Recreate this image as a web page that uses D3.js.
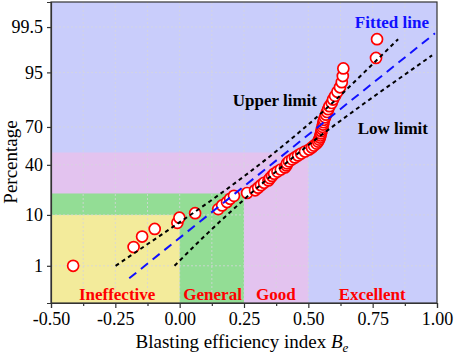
<!DOCTYPE html>
<html>
<head>
<meta charset="utf-8">
<script src="https://cdn.jsdelivr.net/npm/d3@7"></script>
<style>
  body { margin: 0; background: #fff; }
  svg { display: block; }
</style>
</head>
<body>
<script>
// blasting efficiency index of each blast, sorted
const beValues = [-0.414, -0.179, -0.146, -0.097, -0.009, -0.001, 0.060, 0.150, 0.165, 0.184, 0.196, 0.211,
  0.262, 0.293, 0.305, 0.316, 0.328, 0.345, 0.351, 0.359, 0.367, 0.380, 0.393,
  0.409, 0.415, 0.417, 0.425, 0.437, 0.448, 0.460, 0.472, 0.487, 0.503,
  0.514, 0.522, 0.532, 0.538, 0.542, 0.545, 0.547, 0.549, 0.551, 0.553,
  0.555, 0.557, 0.559, 0.561, 0.565, 0.569, 0.573, 0.577, 0.582, 0.591,
  0.596, 0.604, 0.613, 0.623, 0.630, 0.634, 0.636, 0.763, 0.767]
// cumulative percentage of each point
const cumPercent = [1.00, 2.61, 4.22, 5.82, 7.43, 9.04, 10.64, 12.25, 13.86, 15.46, 17.07, 18.67,
  20.28, 21.89, 23.49, 25.10, 26.71, 28.31, 29.92, 31.53, 33.13, 34.74, 36.35,
  37.95, 39.56, 41.16, 42.77, 44.38, 45.98, 47.59, 49.20, 50.80, 52.41,
  54.02, 55.62, 57.23, 58.84, 60.44, 62.05, 63.65, 65.26, 66.87, 68.47,
  70.08, 71.69, 73.29, 74.90, 76.51, 78.11, 79.72, 81.33, 82.93, 84.54,
  86.14, 87.75, 89.36, 90.96, 92.57, 94.18, 95.78, 97.39, 99.00]

const fitX = [-0.196, 0.992]
const fitPercent = [0.49, 99.28]
const upperX = [-0.249, -0.059, 0.118, 0.369, 0.590, 0.717, 0.849]
const upperPercent = [1, 5, 15.87, 50, 84.13, 95, 99]
const lowerX = [-0.020, 0.111, 0.243, 0.464, 0.715, 0.887, 0.981]
const lowerPercent = [1, 5, 15.87, 50, 84.13, 95, 97.7]

// grade zones
const zoneNames = ["Ineffective", "General", "Good", "Excellent"]
const zoneXEnd = [0, 0.25, 0.5, 1.0]
const zonePercentTop = [10, 20, 50, 99.9]
const zoneColors = ["#f3eb9b", "#93dd95", "#e3c3ef", "#c9cdfb"]
const zoneLabelX = [-0.243, 0.128, 0.374, 0.748]

const xTicks = [-0.5, -0.25, 0, 0.25, 0.5, 0.75, 1.0]
const xTickLabels = ["-0.50", "-0.25", "0.00", "0.25", "0.50", "0.75", "1.00"]
const xMinorTicks = [-0.375, -0.125, 0.125, 0.375, 0.625, 0.875]
const yTicks = [1, 10, 40, 70, 95, 99.5]
const yTickLabels = ["1", "10", "40", "70", "95", "99.5"]

// inverse normal cdf (Acklam)
function probit(p) {
  const a = [-3.969683028665376e+01, 2.209460984245205e+02, -2.759285104469687e+02, 1.383577518672690e+02, -3.066479806614716e+01, 2.506628277459239e+00]
  const b = [-5.447609879822406e+01, 1.615858368580409e+02, -1.556989798598866e+02, 6.680131188771972e+01, -1.328068155288572e+01]
  const c = [-7.784894002430293e-03, -3.223964580411365e-01, -2.400758277161838e+00, -2.549732539343734e+00, 4.374664141464968e+00, 2.938163982698783e+00]
  const d = [7.784695709041462e-03, 3.224671290700398e-01, 2.445134137142996e+00, 3.754408661907416e+00]
  const pl = 0.02425
  let q, r
  if (p < pl) {
    q = Math.sqrt(-2 * Math.log(p))
    return (((((c[0]*q+c[1])*q+c[2])*q+c[3])*q+c[4])*q+c[5]) / ((((d[0]*q+d[1])*q+d[2])*q+d[3])*q+1)
  }
  if (p > 1 - pl) {
    q = Math.sqrt(-2 * Math.log(1 - p))
    return -(((((c[0]*q+c[1])*q+c[2])*q+c[3])*q+c[4])*q+c[5]) / ((((d[0]*q+d[1])*q+d[2])*q+d[3])*q+1)
  }
  q = p - 0.5
  r = q * q
  return (((((a[0]*r+a[1])*r+a[2])*r+a[3])*r+a[4])*r+a[5])*q / (((((b[0]*r+b[1])*r+b[2])*r+b[3])*r+b[4])*r+1)
}

const width = 457
const height = 359
const margin = {top: 2, right: 20, bottom: 56, left: 51}
const font = "'Liberation Serif', 'Times New Roman', serif"

const x = d3.scaleLinear()
  .domain([-0.5, 1.0])
  .range([margin.left, width - margin.right])

const z = d3.scaleLinear()
  .domain([probit(0.001), probit(0.999)])
  .range([height - margin.bottom, margin.top])
const y = pct => z(probit(pct / 100))

const svg = d3.select("body").append("svg")
  .attr("width", width)
  .attr("height", height)
  .attr("font-family", font)

// background zones, widest first
for (let i = zoneNames.length - 1; i >= 0; i--) {
  svg.append("rect")
    .attr("x", x(-0.5))
    .attr("y", y(zonePercentTop[i]))
    .attr("width", x(zoneXEnd[i]) - x(-0.5))
    .attr("height", y(0.1) - y(zonePercentTop[i]))
    .attr("fill", zoneColors[i])
}

// grid
const grid = svg.append("g")
  .attr("stroke", "#d6d6dc")
  .attr("stroke-width", 0.8)
  .attr("stroke-dasharray", "2,2")
grid.selectAll(".gx")
  .data(xTicks.concat(xMinorTicks).filter(d => d > -0.5 && d < 1))
  .join("line")
  .attr("x1", d => x(d)).attr("x2", d => x(d))
  .attr("y1", margin.top).attr("y2", height - margin.bottom)
grid.selectAll(".gy")
  .data(yTicks)
  .join("line")
  .attr("y1", d => y(d)).attr("y2", d => y(d))
  .attr("x1", margin.left).attr("x2", width - margin.right)

svg.append("clipPath").attr("id", "plot")
  .append("rect")
  .attr("x", margin.left).attr("y", margin.top)
  .attr("width", width - margin.left - margin.right)
  .attr("height", height - margin.top - margin.bottom)

// points
svg.append("g")
  .selectAll("circle")
  .data(beValues)
  .join("circle")
  .attr("cx", d => x(d))
  .attr("cy", (d, i) => y(cumPercent[i]))
  .attr("r", 5.5)
  .attr("fill", "white")
  .attr("stroke", "#ff0000")
  .attr("stroke-width", 1.7)

const line = d3.line().curve(d3.curveMonotoneX)
const lines = svg.append("g").attr("clip-path", "url(#plot)").attr("fill", "none")
lines.append("path")
  .attr("d", line(fitX.map((d, i) => [x(d), y(fitPercent[i])])))
  .attr("stroke", "#1010ff")
  .attr("stroke-width", 2)
  .attr("stroke-dasharray", "9,6")
lines.append("path")
  .attr("d", line(upperX.map((d, i) => [x(d), y(upperPercent[i])])))
  .attr("stroke", "black")
  .attr("stroke-width", 2)
  .attr("stroke-dasharray", "4,3.5")
lines.append("path")
  .attr("d", line(lowerX.map((d, i) => [x(d), y(lowerPercent[i])])))
  .attr("stroke", "black")
  .attr("stroke-width", 2)
  .attr("stroke-dasharray", "4,3.5")

// annotations
svg.append("text")
  .attr("x", 429).attr("y", 28)
  .attr("text-anchor", "end")
  .attr("font-weight", "bold").attr("font-size", 17)
  .attr("fill", "#1010ff")
  .text("Fitted line")
svg.append("text")
  .attr("x", 317).attr("y", 106)
  .attr("text-anchor", "end")
  .attr("font-weight", "bold").attr("font-size", 17)
  .text("Upper limit")
svg.append("text")
  .attr("x", 428).attr("y", 134)
  .attr("text-anchor", "end")
  .attr("font-weight", "bold").attr("font-size", 17)
  .text("Low limit")

svg.append("g")
  .selectAll("text")
  .data(zoneNames)
  .join("text")
  .attr("x", (d, i) => x(zoneLabelX[i]))
  .attr("y", 300)
  .attr("text-anchor", "middle")
  .attr("font-weight", "bold").attr("font-size", 17)
  .attr("fill", "#ff0000")
  .text(d => d)

// axes
svg.append("g")
  .attr("transform", `translate(0,${height - margin.bottom})`)
  .call(d3.axisBottom(x).tickValues(xTicks).tickFormat((d, i) => xTickLabels[i]).tickSizeOuter(0).tickSize(5).tickPadding(4))
svg.append("g")
  .attr("transform", `translate(0,${height - margin.bottom})`)
  .call(d3.axisBottom(x).tickValues(xMinorTicks).tickFormat("").tickSizeOuter(0).tickSize(3))
  .call(g => g.select(".domain").remove())

svg.append("g")
  .attr("transform", `translate(${margin.left},0)`)
  .call(d3.axisLeft(z).tickValues(yTicks.map(p => probit(p / 100))).tickFormat((d, i) => yTickLabels[i]).tickSizeOuter(0).tickSize(4).tickPadding(4))

svg.selectAll(".tick text").attr("font-size", 18).attr("font-family", font).attr("fill", "black")
svg.selectAll(".domain, .tick line").attr("stroke", "#333").attr("stroke-width", 1.2)

// frame
svg.append("rect")
  .attr("x", margin.left).attr("y", margin.top)
  .attr("width", width - margin.left - margin.right)
  .attr("height", height - margin.top - margin.bottom)
  .attr("fill", "none")
  .attr("stroke", "#333")
  .attr("stroke-width", 1.2)

// axis titles
const xt = svg.append("text")
  .attr("x", 242)
  .attr("y", 348)
  .attr("text-anchor", "middle")
  .attr("font-size", 19)
xt.append("tspan").text("Blasting efficiency index ")
xt.append("tspan").attr("font-style", "italic").text("B")
xt.append("tspan").attr("font-style", "italic").attr("font-size", 13).attr("dy", 4).text("e")

svg.append("text")
  .attr("transform", "translate(17,162) rotate(-90)")
  .attr("text-anchor", "middle")
  .attr("font-size", 19)
  .text("Percentage")
</script>
</body>
</html>
